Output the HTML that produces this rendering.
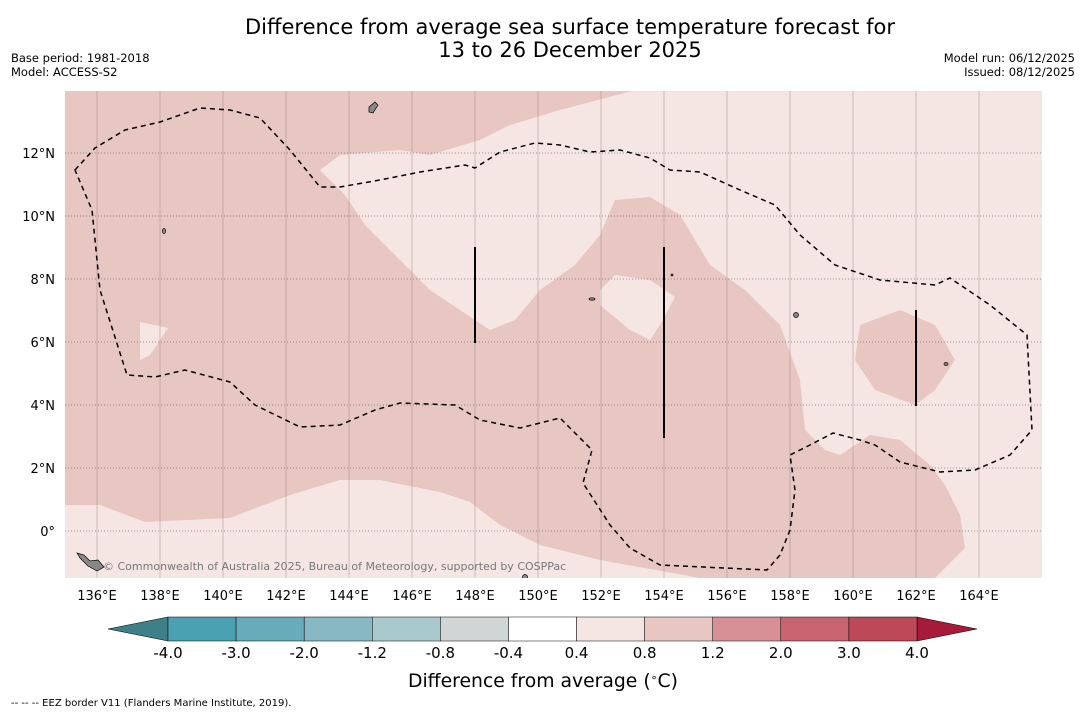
<!DOCTYPE html>
<html><head><meta charset="utf-8">
<style>
body{margin:0;background:#fff;width:1085px;height:713px;overflow:hidden;font-family:"DejaVu Sans","Liberation Sans",sans-serif;}
svg{position:absolute;left:0;top:0;font-family:"DejaVu Sans","Liberation Sans",sans-serif}
</style></head>
<body>
<svg id="s" width="1085" height="713" xmlns="http://www.w3.org/2000/svg">
<text x="570" y="34" font-size="21" text-anchor="middle">Difference from average sea surface temperature forecast for</text>
<text x="570" y="57" font-size="21" text-anchor="middle">13 to 26 December 2025</text>
<text x="11" y="62" font-size="11.5">Base period: 1981-2018</text>
<text x="11" y="76" font-size="11.5">Model: ACCESS-S2</text>
<text x="1075" y="62" font-size="11.5" text-anchor="end">Model run: 06/12/2025</text>
<text x="1075" y="76" font-size="11.5" text-anchor="end">Issued: 08/12/2025</text>
<defs><clipPath id="mc"><rect x="65" y="91" width="977" height="487"/></clipPath></defs>
<g clip-path="url(#mc)">
<rect x="65" y="91" width="977" height="487" fill="#e8c6c2"/>
<polygon fill="#f5e6e4" points="632,91 560,110 510,125 480,140 430,155 400,150 340,155 320,170 345,195 365,225 400,260 430,290 460,310 490,330 515,320 540,290 575,265 600,235 615,200 650,197 680,215 710,265 745,290 780,325 800,380 805,430 825,450 840,455 870,435 900,440 930,465 945,485 960,515 965,548 935,578 1042,578 1042,91"/>
<polygon fill="#e8c6c2" points="860,325 900,310 935,325 955,360 935,390 915,405 875,390 855,360"/>
<polygon fill="#f5e6e4" points="615,275 650,280 675,297 660,325 650,340 630,330 600,305 600,290"/>
<polygon fill="#f5e6e4" points="140,322 168,328 150,355 140,360"/>
<polygon fill="#f5e6e4" points="65,505 100,505 145,522 230,518 290,495 340,480 380,480 440,492 470,502 500,525 540,545 600,560 700,578 65,578"/>
<g id="grid"></g>
<polygon fill="none" stroke="#000" stroke-width="1.5" stroke-dasharray="5,4" points="75,170 95,148 125,130 160,122 200,108 230,110 260,118 290,150 320,187 340,187 380,180 420,172 465,165 475,168 500,152 535,143 560,145 590,152 620,150 650,158 670,170 700,172 740,190 775,205 800,235 835,265 880,280 935,285 950,278 990,305 1027,335 1032,430 1010,455 975,470 940,472 900,462 875,445 860,440 833,433 810,445 790,455 795,490 790,530 780,555 767,570 660,565 630,548 610,525 583,483 592,450 560,418 520,428 480,420 455,405 400,403 375,410 340,425 300,427 255,405 230,382 185,370 155,377 127,375 100,290 92,210 75,170"/>
<line x1="475" y1="247" x2="475" y2="343" stroke="#000" stroke-width="2"/>
<line x1="664" y1="247" x2="664" y2="438" stroke="#000" stroke-width="2"/>
<line x1="916" y1="310" x2="916" y2="406" stroke="#000" stroke-width="2"/>
<g fill="#888" stroke="#000" stroke-width="0.7">
<polygon points="369,107 375,102 378,105 373,113 369,112"/>
<polygon points="77,553 84,555 90,561 98,560 104,567 97,571 88,566 80,558"/>
<ellipse cx="796" cy="315" rx="2.5" ry="2.5"/>
<ellipse cx="946" cy="364" rx="2" ry="1.5"/>
<ellipse cx="164" cy="231" rx="1.5" ry="2.5"/>
<ellipse cx="592" cy="299" rx="3" ry="1.2"/>
<ellipse cx="525" cy="577" rx="2.5" ry="2.5"/>
<ellipse cx="672" cy="275" rx="1" ry="1"/>
</g>
<text x="103" y="570" font-size="11" fill="#777">© Commonwealth of Australia 2025, Bureau of Meteorology, supported by COSPPac</text>
</g>
<g id="axes"></g>
<g id="cbar"></g>
<text x="543" y="687" font-size="18.8" text-anchor="middle">Difference from average (<tspan baseline-shift="super" font-size="11">∘</tspan>C)</text>
<text x="11" y="706" font-size="10">--  --  -- EEZ border V11 (Flanders Marine Institute, 2019).</text>
</svg>
<script>
const lonTicks=[136,138,140,142,144,146,148,150,152,154,156,158,160,162,164];
const latTicks=[0,2,4,6,8,10,12];
const cbBounds=[-4.0,-3.0,-2.0,-1.2,-0.8,-0.4,0.4,0.8,1.2,2.0,3.0,4.0];
const cbColors=["#4aa1b1","#68abb9","#88b8c3","#a8c9ce","#d0d6d5","#ffffff","#f5e6e4","#e8c6c2","#d68f94","#c86570","#bd4858"];
const cbUnder="#3d8088", cbOver="#a81a3a";
const NS="http://www.w3.org/2000/svg";
function xLon(l){return 97+(l-136)*31.5;}
function yLat(l){return 531-l*31.5;}
function mk(t,a,p){const e=document.createElementNS(NS,t);for(const k in a)e.setAttribute(k,a[k]);p.appendChild(e);return e;}
const grid=document.getElementById('grid'),axes=document.getElementById('axes'),cb=document.getElementById('cbar');
lonTicks.forEach(l=>{
 const g=mk('line',{x1:xLon(l),x2:xLon(l),y1:91,y2:578,stroke:'#8a7070','stroke-width':0.6,opacity:0.6},grid);
 
 
 const t=mk('text',{x:xLon(l),y:600,'font-size':13,'text-anchor':'middle'},axes);t.textContent=l+'°E';
 
 
});
latTicks.forEach(l=>{
 const g=mk('line',{x1:65,x2:1042,y1:yLat(l),y2:yLat(l),stroke:'#777','stroke-width':0.7,'stroke-dasharray':'1,2'},grid);
 
 
 const t=mk('text',{x:55,y:yLat(l)+5,'font-size':13,'text-anchor':'end'},axes);t.textContent=(l===0?'0°':l+'°N');
 
 
});
const cx0=168,cx1=917,cy=617,ch=24,n=cbColors.length,bw=(cx1-cx0)/n;
function cbX(i){return cx0+i*bw;}
const lt=mk('polygon',{points:`108,${cy+ch/2} ${cx0},${cy} ${cx0},${cy+ch}`,fill:cbUnder,stroke:'#000','stroke-width':0.5},cb);


const rt=mk('polygon',{points:`${cx1},${cy} 977,${cy+ch/2} ${cx1},${cy+ch}`,fill:cbOver,stroke:'#000','stroke-width':0.5},cb);


cbColors.forEach((c,i)=>{
 const r=mk('rect',{x:cbX(i),y:cy,width:bw,height:ch,fill:c,stroke:'#000','stroke-width':0.5},cb);
 
 
});
cbBounds.forEach((b,i)=>{
 const t=mk('text',{x:cbX(i),y:658,'font-size':15,'text-anchor':'middle'},cb);t.textContent=b.toFixed(1);
 
 
});
</script>
</body></html>
